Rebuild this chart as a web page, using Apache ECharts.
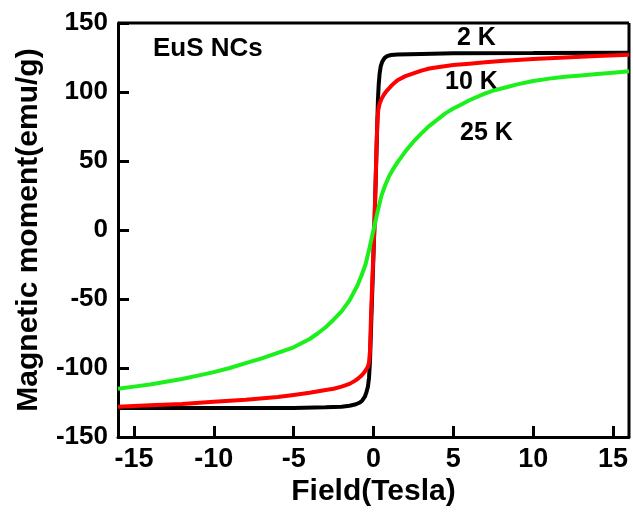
<!DOCTYPE html>
<html><head><meta charset="utf-8">
<script src="https://cdn.jsdelivr.net/npm/echarts@6/dist/echarts.min.js"></script>
<style>html,body{margin:0;padding:0;background:#fff}#c{width:633px;height:518px}</style>
</head><body><div id="c"></div>
<script>
var xTicks = [-15, -10, -5, 0, 5, 10, 15];
var yTicks = [-150, -100, -50, 0, 50, 100, 150];
var curve2K = [[-16,-129],[-10,-129],[-5,-129],[-3,-128.5],[-2,-128],[-1.5,-127.3],[-1.1,-126.3],[-0.85,-125],[-0.7,-123.5],[-0.55,-121],[-0.45,-118],[-0.35,-113.5],[-0.28,-107],[-0.22,-95],[-0.15,-70],[0.05,0],[0.22,70],[0.28,95],[0.33,106],[0.38,113],[0.45,118.5],[0.55,122],[0.68,124.5],[0.85,126],[1.1,126.8],[1.5,127.2],[3,127.6],[5,128],[10,128.2],[16,128.5]];
var curve10K = [[-16,-128],[-14,-127],[-12,-126],[-10,-124.5],[-8,-123],[-6,-121],[-5,-119.5],[-4,-118],[-3,-116],[-2.5,-115],[-2,-113.5],[-1.5,-111.5],[-1.2,-109.5],[-1,-108],[-0.8,-106],[-0.6,-103.5],[-0.45,-101],[-0.35,-99],[-0.28,-96],[-0.22,-88],[-0.15,-60],[0.05,0],[0.2,65],[0.25,80],[0.3,87],[0.38,91.5],[0.5,95],[0.65,98],[0.8,100.5],[1,103],[1.2,105.5],[1.5,108.5],[2,111.5],[2.5,113.5],[3,115.5],[3.5,117],[4,118],[5,119.5],[6,120.5],[7,121.5],[8,122.5],[10,124],[12,125],[14,126],[16,127]];
var curve25K = [[-16,-115],[-15,-113.5],[-14,-112],[-13,-110],[-12,-108],[-11,-105.5],[-10,-103],[-9,-100],[-8,-96.5],[-7,-93],[-6,-89],[-5,-85],[-4,-79],[-3.5,-75],[-3,-70.5],[-2.5,-65],[-2,-59],[-1.5,-51],[-1,-40],[-0.75,-33],[-0.5,-25],[-0.25,-13],[0,0],[0.25,13],[0.5,25],[0.75,33],[1,39.5],[1.25,44.5],[1.5,49],[1.75,53],[2,57],[2.5,64],[3,70],[3.5,75.5],[4,80],[4.5,84.5],[5,88],[5.5,91],[6,94],[7,99],[7.5,101],[8.5,104],[9,105.5],[10,108],[11,109.7],[12,111],[13,112],[14,113],[15,114],[16,115]];
var seriesNames = ['2 K', '10 K', '25 K'];
var sampleLabel = 'EuS NCs';

var F = 'Arial, "Liberation Sans", sans-serif';
var W = 633, H = 518;
var X_MIN = -16, X_MAX = 16;
var G = { left: 118, right: 4, top: 23, bottom: 81 };
var TICK = 11;
var pxPerUnit = (W - G.left - G.right) / (X_MAX - X_MIN);
var xTickLeft = G.left + (xTicks[0] - X_MIN) * pxPerUnit;
var xTickRight = G.right + (X_MAX - xTicks[xTicks.length - 1]) * pxPerUnit;
var chart = echarts.init(document.getElementById('c'));
function lineSeries(name, data, color) {
  return { name: name, type: 'line', data: data, showSymbol: false, smooth: false,
    xAxisIndex: 0, yAxisIndex: 0,
    lineStyle: { color: color, width: 4 } };
}
function annot(x, y, text, size) {
  return { type: 'text', x: x, y: y, style: { text: text, font: 'bold ' + size + 'px ' + F, fill: '#000' } };
}
var hidden = { axisLine: { show: false }, axisTick: { show: false }, axisLabel: { show: false }, splitLine: { show: false } };
var tickLine = { show: true, lineStyle: { color: '#000', width: 3 } };
chart.setOption({
  animation: false,
  grid: [
    { left: G.left, right: G.right, top: G.top, bottom: G.bottom },
    { left: xTickLeft, right: xTickRight, top: G.top, bottom: G.bottom },
    { left: xTickLeft, right: xTickRight, top: H - G.bottom - TICK, bottom: G.bottom },
    { left: G.left, width: TICK, top: G.top, bottom: G.bottom }
  ],
  xAxis: [{
    gridIndex: 0, type: 'value', min: X_MIN, max: X_MAX,
    name: 'Field(Tesla)', nameLocation: 'middle', nameGap: 40,
    nameTextStyle: { fontFamily: F, fontWeight: 'bold', fontSize: 30, color: '#000' },
    axisLine: { show: true, onZero: false, lineStyle: { color: '#000', width: 3 } },
    axisTick: { show: false }, axisLabel: { show: false }, splitLine: { show: false }
  }, {
    gridIndex: 1, type: 'value', min: xTicks[0], max: xTicks[xTicks.length - 1], interval: 5,
    axisLine: { show: false, onZero: false },
    axisTick: { show: true, inside: true, length: TICK, lineStyle: { width: 3, color: '#000' } },
    axisLabel: { fontFamily: F, fontWeight: 'bold', fontSize: 27, color: '#000', margin: 9 },
    splitLine: { show: false }
  }, Object.assign({ gridIndex: 2, type: 'value', min: xTicks[0], max: xTicks[xTicks.length - 1], interval: 5 }, hidden, { splitLine: tickLine }),
  Object.assign({ gridIndex: 3, type: 'value', min: 0, max: 1 }, hidden)],
  yAxis: [{
    gridIndex: 0, type: 'value', min: yTicks[0], max: yTicks[yTicks.length - 1], interval: 50,
    name: 'Magnetic moment(emu/g)', nameLocation: 'middle', nameGap: 74,
    nameTextStyle: { fontFamily: F, fontWeight: 'bold', fontSize: 30, color: '#000' },
    axisLine: { show: true, onZero: false, lineStyle: { color: '#000', width: 3 } },
    axisTick: { show: true, inside: true, length: TICK, lineStyle: { width: 3, color: '#000' } },
    axisLabel: { fontFamily: F, fontWeight: 'bold', fontSize: 26, color: '#000', margin: 10 },
    splitLine: { show: false }
  }, Object.assign({ gridIndex: 1, type: 'value', min: yTicks[0], max: yTicks[yTicks.length - 1] }, hidden),
  Object.assign({ gridIndex: 2, type: 'value', min: 0, max: 1 }, hidden),
  Object.assign({ gridIndex: 3, type: 'value', min: yTicks[0], max: yTicks[yTicks.length - 1], interval: 50 }, hidden, { splitLine: tickLine })],
  series: [
    lineSeries(seriesNames[0], curve2K, '#000000'),
    lineSeries(seriesNames[1], curve10K, '#ff0000'),
    lineSeries(seriesNames[2], curve25K, '#1cf01c')
  ],
  graphic: [
    { type: 'line', shape: { x1: G.left, y1: G.top, x2: W - G.right, y2: G.top }, style: { stroke: '#000', lineWidth: 3 } },
    { type: 'line', shape: { x1: W - G.right, y1: G.top, x2: W - G.right, y2: H - G.bottom }, style: { stroke: '#000', lineWidth: 3 } },
    annot(153, 36, sampleLabel, 26),
    annot(457, 26, seriesNames[0], 25),
    annot(445, 70, seriesNames[1], 25),
    annot(460, 121, seriesNames[2], 25)
  ]
});
</script></body></html>
